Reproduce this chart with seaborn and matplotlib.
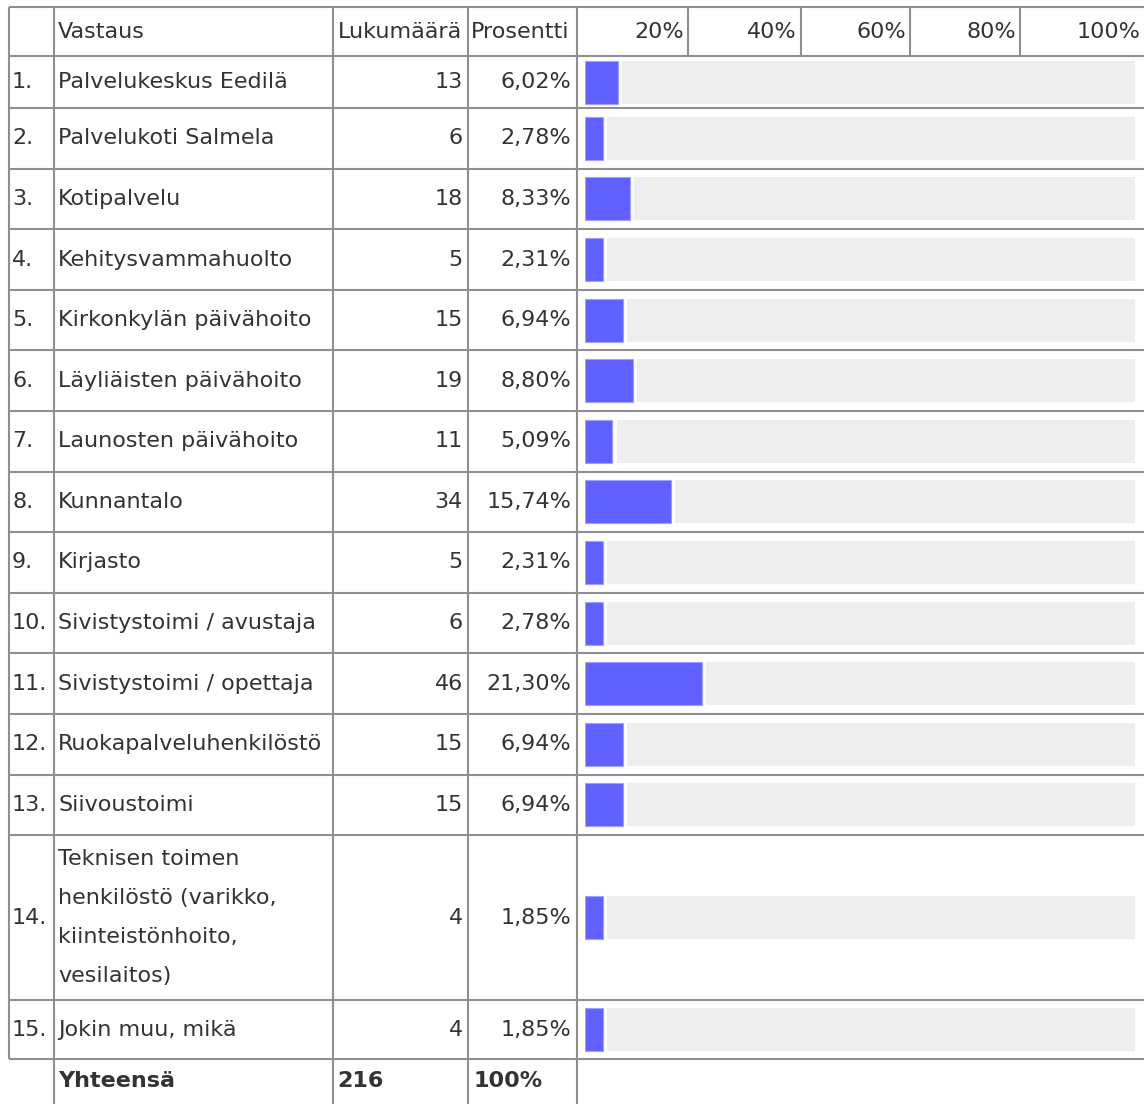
import numpy as np
import pandas as pd
import matplotlib.pyplot as plt
import seaborn as sns

nums = ["1.", "2.", "3.", "4.", "5.", "6.", "7.", "8.", "9.", "10.",
        "11.", "12.", "13.", "14.", "15."]
answers = ["Palvelukeskus Eedilä", "Palvelukoti Salmela", "Kotipalvelu",
           "Kehitysvammahuolto", "Kirkonkylän päivähoito", "Läyliäisten päivähoito",
           "Launosten päivähoito", "Kunnantalo", "Kirjasto",
           "Sivistystoimi / avustaja", "Sivistystoimi / opettaja",
           "Ruokapalveluhenkilöstö", "Siivoustoimi",
           "Teknisen toimen\nhenkilöstö (varikko,\nkiinteistönhoito,\nvesilaitos)",
           "Jokin muu, mikä"]
counts = [13, 6, 18, 5, 15, 19, 11, 34, 5, 6, 46, 15, 15, 4, 4]
percents = [6.02, 2.78, 8.33, 2.31, 6.94, 8.80, 5.09, 15.74, 2.31, 2.78,
            21.30, 6.94, 6.94, 1.85, 1.85]
headers = ["Vastaus", "Lukumäärä", "Prosentti"]
scale_labels = ["20%", "40%", "60%", "80%", "100%"]
total_label = "Yhteensä"
total_count = 216
total_percent = "100%"

sns.set_theme(style="white")
plt.rcParams['font.family'] = ['DejaVu Sans']

W, H = 1144, 1104
fig = plt.figure(figsize=(W / 100, H / 100), dpi=100)
ax = fig.add_axes([0, 0, 1, 1])
ax.set_xlim(0, W)
ax.set_ylim(H, 0)
ax.axis('off')

# table layout (pixels)
left = 9
col_x = [54, 333, 468, 577]
scale_x = [688, 801, 910, 1020]
top, head_bot = 7, 56
row_h = np.array([52] + [60.6] * 12 + [165, 59])
edges = head_bot + np.concatenate([[0], np.cumsum(row_h)])
centers = (edges[:-1] + edges[1:]) / 2
tot_top = edges[-1]
tot_mid = (tot_top + H) / 2 - 1
head_mid = (top + head_bot) / 2

line_kw = dict(color='#8f8f8f', lw=1.5)
ax.hlines([top, *edges], left, W, **line_kw)
ax.vlines(left, top, tot_top, **line_kw)
ax.vlines(col_x, top, H, **line_kw)
ax.vlines(scale_x, top, head_bot, **line_kw)

txt = dict(color='#333333', fontsize=16, va='center')
ax.text(58, head_mid, headers[0], ha='left', **txt)
ax.text((col_x[1] + col_x[2]) / 2, head_mid, headers[1], ha='center', **txt)
ax.text(471, head_mid, headers[2], ha='left', **txt)
for x, lab in zip(scale_x + [W], scale_labels):
    ax.text(x - 4, head_mid, lab, ha='right', **txt)

for y, n, a, c, p in zip(centers, nums, answers, counts, percents):
    ax.text(12, y, n, ha='left', **txt)
    lines = a.split("\n")
    for k, line in enumerate(lines):
        ax.text(58, y + (k - (len(lines) - 1) / 2) * 39, line, ha='left', **txt)
    ax.text(463, y, str(c), ha='right', **txt)
    ax.text(571, y, f"{p:.2f}".replace('.', ',') + "%", ha='right', **txt)

ax.text(58, tot_mid, total_label, ha='left', fontweight='bold', **txt)
ax.text(337, tot_mid, str(total_count), ha='left', fontweight='bold', **txt)
ax.text(473, tot_mid, total_percent, ha='left', fontweight='bold', **txt)

# bars: own axes over the bar column, 0..100 %
bx = fig.add_axes([584.5 / W, 0, 550 / W, 1])
df = pd.DataFrame({'row': centers, 'pct': percents})
df['shown'] = np.maximum(df['pct'], 3.3)   # renderer keeps tiny bars visible
df['gap'] = df['shown'] + 0.75
df['track'] = 100
bw = 43 / np.diff(centers).min()

bar_kw = dict(data=df, y='row', orient='y', native_scale=True, width=bw,
              saturation=1, errorbar=None, ax=bx)
sns.barplot(x='track', color='#eeeeee', linewidth=0, **bar_kw)
sns.barplot(x='gap', color='white', linewidth=0, **bar_kw)
sns.barplot(x='shown', color='#6060ff', edgecolor='#a0a0ff', linewidth=0.8, **bar_kw)
bx.set_xlim(0, 100)
bx.set_ylim(H, 0)
bx.axis('off')

fig.savefig("out.png", dpi=100)
